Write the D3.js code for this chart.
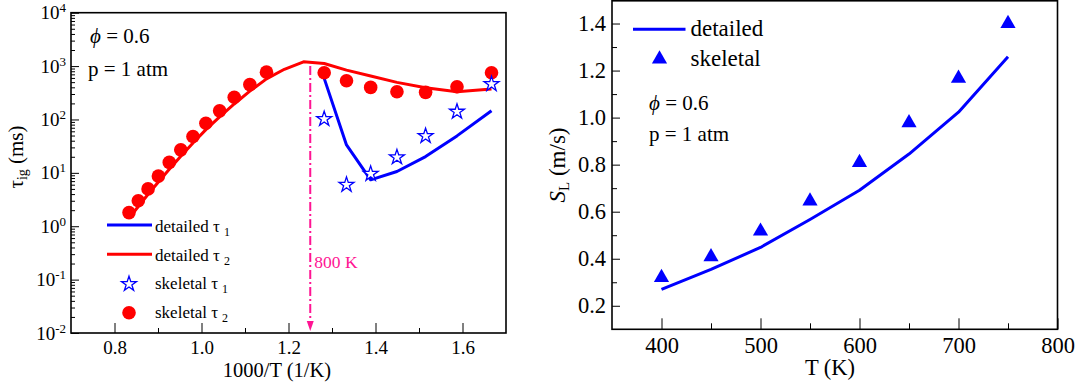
<!DOCTYPE html>
<html><head><meta charset="utf-8">
<script src="https://cdn.jsdelivr.net/npm/d3@7"></script>
<style>
body{margin:0;background:#fff}
text{font-family:"Liberation Serif","Times New Roman",Times,serif;fill:#000}
</style>
</head><body>
<svg id="c" width="1083" height="387"></svg>
<script>
// ---------------- data: left panel (ignition delay) ----------------
const tempsDetailed = [1200,1170,1140,1110,1080,1050,1020,990,960,930,900,870,840,810,780,750,720,690,660,630,600];
const detailedTau2  = [1.41,2.34,3.98,6.76,11.7,20.4,36.3,64.6,112,195,339,575,871,1200,1120,841,650,495,393,331,372];
const tempsSkeletal2 = [1200,1170,1140,1110,1080,1050,1020,990,960,930,900,870,780,750,720,690,660,630,600];
const skeletalTau2   = [1.8,3.0,5.0,8.7,15.7,27,48,85,145,260,450,770,750,531,399,331,322,410,750];
const tempsTau1     = [780,750,720,690,660,630,600];
const detailedTau1  = [589,33.3,7.4,10.6,20.2,49.2,146];
const skeletalTau1  = [102,5.97,9.6,19.6,49,140,461];
const xTicksLeft    = [0.8,1.0,1.2,1.4,1.6];
const xMinorLeft    = [0.9,1.1,1.3,1.5];
const yTicksLeft    = [1e-2,1e-1,1e0,1e1,1e2,1e3,1e4];
const markerTemp    = 800;
const legendLeft    = ["detailed τ","detailed τ","skeletal τ","skeletal τ"];
const legendLeftSub = ["1","2","1","2"];

// ---------------- data: right panel (flame speed) ----------------
const tempsSL     = [400,450,500,550,600,650,700,750];
const detailedSL  = [0.270,0.355,0.448,0.567,0.691,0.845,1.023,1.259];
const skeletalSL  = [0.320,0.408,0.517,0.645,0.809,0.978,1.167,1.400];
const xTicksRight = [400,500,600,700,800];
const xMinorRight = [450,550,650,750];
const yTicksRight = [0.2,0.4,0.6,0.8,1.0,1.2,1.4];
const yMinorRight = [0.3,0.5,0.7,0.9,1.1,1.3];

const BLUE="#0000ff", RED="#ff0000", PINK="#ff1493";
const svg = d3.select("#c");

// =================== LEFT PANEL ===================
const L = {x0:71, x1:506, y0:12.7, y1:333};
const xL = d3.scaleLinear().domain([0.7,1.7]).range([L.x0,L.x1]);
const yL = d3.scaleLog().domain([1e-2,1e4]).range([L.y1,L.y0]);
const inv = t => 1000/t;

const gL = svg.append("g");
gL.append("g").attr("transform",`translate(0,${L.y1})`)
  .call(d3.axisBottom(xL).tickValues(xTicksLeft).tickSize(-10).tickSizeOuter(0).tickPadding(8).tickFormat(d3.format(".1f")))
  .call(g=>g.select(".domain").remove())
  .call(g=>g.selectAll("text").style("font-size","19px").style("font-family","Liberation Serif"));
gL.append("g").attr("transform",`translate(0,${L.y1})`)
  .call(d3.axisBottom(xL).tickValues(xMinorLeft).tickSize(-5).tickSizeOuter(0).tickFormat(""))
  .call(g=>g.select(".domain").remove());
const yMinorLeft = [];
for (let e=-2;e<4;e++) for (let m=2;m<10;m++) yMinorLeft.push(m*Math.pow(10,e));
gL.append("g").attr("transform",`translate(${L.x0},0)`)
  .call(d3.axisLeft(yL).tickValues(yTicksLeft).tickSize(-8).tickSizeOuter(0).tickPadding(5).tickFormat(""))
  .call(g=>g.select(".domain").remove())
  .call(g=>g.selectAll(".tick text").each(function(d){
      const t=d3.select(this).style("font-size","19px").style("font-family","Liberation Serif");
      t.append("tspan").text("10");
      t.append("tspan").attr("dy","-7").style("font-size","13px").text(String(Math.round(Math.log10(d))));
  }));
gL.append("g").attr("transform",`translate(${L.x0},0)`)
  .call(d3.axisLeft(yL).tickValues(yMinorLeft).tickSize(-4).tickSizeOuter(0).tickFormat(""))
  .call(g=>g.select(".domain").remove());
gL.selectAll(".tick line").attr("stroke","#000").attr("stroke-width",1);

gL.append("rect").attr("x",L.x0).attr("y",L.y0).attr("width",L.x1-L.x0).attr("height",L.y1-L.y0)
  .attr("fill","none").attr("stroke","#000").attr("stroke-width",1.6);

// 800 K marker (dash-dot arrow)
const mx = xL(inv(markerTemp));
gL.append("line").attr("x1",mx).attr("x2",mx).attr("y1",yL(1e3)).attr("y2",yL(1e-2)-8)
  .attr("stroke",PINK).attr("stroke-width",2).attr("stroke-dasharray","9,3,2,3");
gL.append("path").attr("d",`M${mx-3.5},${yL(1e-2)-12} L${mx+3.5},${yL(1e-2)-12} L${mx},${yL(1e-2)-2} Z`)
  .attr("fill",PINK);
gL.append("text").attr("x",mx+4).attr("y",268).style("font-size","17.5px").style("fill",PINK).text(markerTemp+" K");

const lineL = d3.line().x(d=>xL(inv(d[0]))).y(d=>yL(d[1]));
gL.append("path").datum(d3.zip(tempsDetailed,detailedTau2)).attr("d",lineL)
  .attr("fill","none").attr("stroke",RED).attr("stroke-width",3).attr("stroke-linejoin","round");
gL.append("path").datum(d3.zip(tempsTau1,detailedTau1)).attr("d",lineL)
  .attr("fill","none").attr("stroke",BLUE).attr("stroke-width",3).attr("stroke-linejoin","round");
gL.selectAll("circle.sk2").data(d3.zip(tempsSkeletal2,skeletalTau2)).join("circle")
  .attr("cx",d=>xL(inv(d[0]))).attr("cy",d=>yL(d[1])).attr("r",6.8).attr("fill",RED);
const star = d3.symbol().type(d3.symbolStar).size(70);
gL.selectAll("path.sk1").data(d3.zip(tempsTau1,skeletalTau1)).join("path")
  .attr("transform",d=>`translate(${xL(inv(d[0]))},${yL(d[1])})`).attr("d",star)
  .attr("fill","#fff").attr("stroke",BLUE).attr("stroke-width",1.3);

const addPhi = (g,x,y) => {
  const t=g.append("text").attr("x",x).attr("y",y).style("font-size","21px");
  t.append("tspan").style("font-style","italic").text("ϕ");
  t.append("tspan").text(" = 0.6");
};
addPhi(gL,90,42.7);
gL.append("text").attr("x",88).attr("y",76).style("font-size","21px").text("p = 1 atm");

const legY = [231.5,260.5,289,317.5];
gL.append("line").attr("x1",107).attr("x2",152).attr("y1",225).attr("y2",225).attr("stroke",BLUE).attr("stroke-width",3);
gL.append("line").attr("x1",107).attr("x2",152).attr("y1",254.3).attr("y2",254.3).attr("stroke",RED).attr("stroke-width",3);
gL.append("path").attr("transform","translate(129,284)").attr("d",star).attr("fill","#fff").attr("stroke",BLUE).attr("stroke-width",1.3);
gL.append("circle").attr("cx",129).attr("cy",312.7).attr("r",6.8).attr("fill",RED);
legendLeft.forEach((s,i)=>{
  const t=gL.append("text").attr("x",155).attr("y",legY[i]).style("font-size","17px");
  t.append("tspan").text(s);
  t.append("tspan").attr("dx","4").attr("dy","4").style("font-size","12px").text(legendLeftSub[i]);
});

gL.append("text").attr("x",277).attr("y",377).attr("text-anchor","middle").style("font-size","20.5px").text("1000/T (1/K)");
{
  const t=gL.append("text").attr("transform","translate(23,157) rotate(-90)").attr("text-anchor","middle").style("font-size","21px");
  t.append("tspan").text("τ");
  t.append("tspan").attr("dy","4").style("font-size","14px").text("ig");
  t.append("tspan").attr("dy","-4").text(" (ms)");
}

// =================== RIGHT PANEL ===================
const R = {x0:612, x1:1057.5, y0:0, y1:329.3};
const xR = d3.scaleLinear().domain([350,800]).range([R.x0,R.x1]);
const yR = d3.scaleLinear().domain([0.1,1.5]).range([R.y1,R.y0]);
const gR = svg.append("g");

gR.append("g").attr("transform",`translate(0,${R.y1})`)
  .call(d3.axisBottom(xR).tickValues(xTicksRight).tickSize(-11).tickSizeOuter(0).tickPadding(8).tickFormat(d3.format("d")))
  .call(g=>g.select(".domain").remove())
  .call(g=>g.selectAll("text").style("font-size","22.5px").style("font-family","Liberation Serif"));
gR.append("g").attr("transform",`translate(0,${R.y1})`)
  .call(d3.axisBottom(xR).tickValues(xMinorRight).tickSize(-6).tickSizeOuter(0).tickFormat(""))
  .call(g=>g.select(".domain").remove());
gR.append("g").attr("transform",`translate(${R.x0},0)`)
  .call(d3.axisLeft(yR).tickValues(yTicksRight).tickSize(-8).tickSizeOuter(0).tickPadding(6).tickFormat(d3.format(".1f")))
  .call(g=>g.select(".domain").remove())
  .call(g=>g.selectAll("text").style("font-size","22.5px").style("font-family","Liberation Serif"));
gR.append("g").attr("transform",`translate(${R.x0},0)`)
  .call(d3.axisLeft(yR).tickValues(yMinorRight).tickSize(-5).tickSizeOuter(0).tickFormat(""))
  .call(g=>g.select(".domain").remove());
gR.selectAll(".tick line").attr("stroke","#000").attr("stroke-width",1);

gR.append("rect").attr("x",R.x0).attr("y",R.y0+0.8).attr("width",R.x1-R.x0).attr("height",R.y1-R.y0-0.8)
  .attr("fill","none").attr("stroke","#000").attr("stroke-width",1.6);

const lineR = d3.line().x(d=>xR(d[0])).y(d=>yR(d[1]));
gR.append("path").datum(d3.zip(tempsSL,detailedSL)).attr("d",lineR)
  .attr("fill","none").attr("stroke",BLUE).attr("stroke-width",3).attr("stroke-linejoin","round");
const tri = d3.symbol().type(d3.symbolTriangle).size(100);
gR.selectAll("path.tri").data(d3.zip(tempsSL,skeletalSL)).join("path")
  .attr("transform",d=>`translate(${xR(d[0])},${yR(d[1])})`).attr("d",tri).attr("fill",BLUE);

gR.append("line").attr("x1",633).attr("x2",685.5).attr("y1",29.3).attr("y2",29.3).attr("stroke",BLUE).attr("stroke-width",3);
gR.append("text").attr("x",690.5).attr("y",36).style("font-size","23px").text("detailed");
gR.append("path").attr("transform","translate(659.5,59)").attr("d",tri).attr("fill",BLUE);
gR.append("text").attr("x",690.5).attr("y",65.5).style("font-size","23px").text("skeletal");
addPhi(gR,649,110);
gR.append("text").attr("x",649).attr("y",141).style("font-size","21px").text("p = 1 atm");

gR.append("text").attr("x",830).attr("y",375).attr("text-anchor","middle").style("font-size","22.5px").text("T (K)");
{
  const t=gR.append("text").attr("transform","translate(565,165) rotate(-90)").attr("text-anchor","middle").style("font-size","23px");
  t.append("tspan").style("font-style","italic").text("S");
  t.append("tspan").attr("dy","4").style("font-size","15px").text("L");
  t.append("tspan").attr("dy","-4").text(" (m/s)");
}
</script>
</body></html>
